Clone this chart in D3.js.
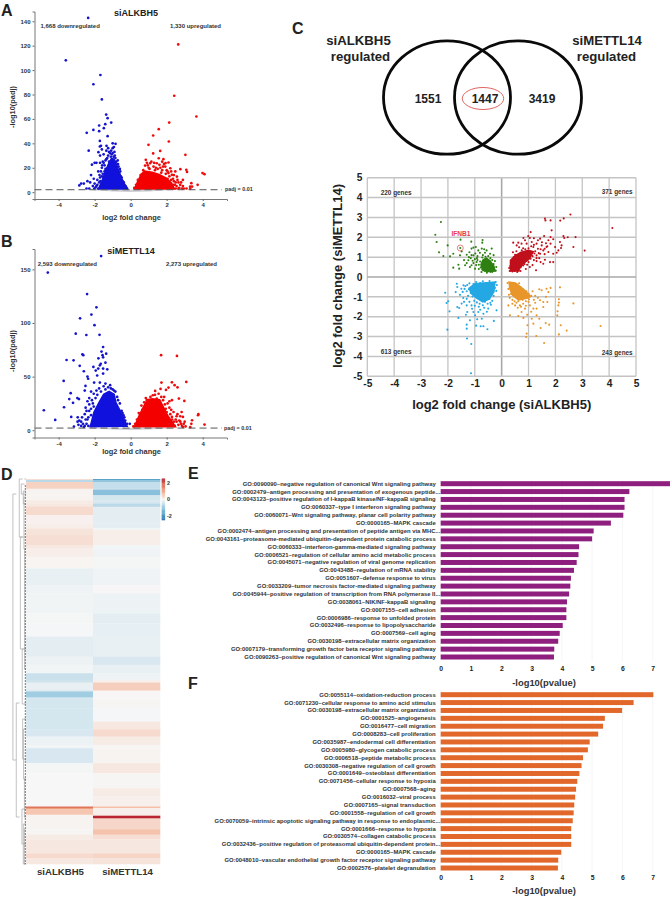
<!DOCTYPE html>
<html><head><meta charset="utf-8">
<script src="https://cdn.jsdelivr.net/npm/d3@7/dist/d3.min.js"></script>
<style>
html,body{margin:0;padding:0;background:#fff}
svg{display:block}
text{font-family:"Liberation Sans",Arial,sans-serif;font-weight:bold;fill:#222}
</style></head><body><svg id="c" width="672" height="897"></svg>
<script>
// ---------- Volcano A ----------
const aDown=[[-2.36,142.7],[-3.6,108],[-1.68,96],[-2.07,88.4],[-1.6,76],[-1.36,63.6],[-1.28,60.6],[-1.75,54.6],[-1.41,55.7],[-1.08,57],[-2.07,51],[-1.49,52.4],[-1.75,50],[-2.44,48.6],[-1.28,45.9],[-1.71,42],[-1,40],[-.84,39.6],[-1.71,37.4],[-2.33,34],[-1.79,32.8],[-.93,37],[-1.34,38],[-1.2,33],[-1.0,36],[-.9,33],[-1.5,31],[-1.9,24],[-2.0,24],[-2.15,22.5],[-1.7,24],[-1.4,26],[-1.6,20],[-1.8,17],[-2.05,11],[-2.2,14],[-2.25,8],[-2.4,9],[-2.6,7],[-2.75,7],[-2.85,5.5],[-2,7],[-1.95,4],[-2.1,5],[-1.85,10],[-1.7,12],[-1.6,6],[-1.55,15],[-1.45,22],[-1.3,28],[-1.25,30],[-1.1,29],[-.95,29],[-.85,28],[-1.15,32],[-1.05,31],[-1.35,34],[-1.7,30],[-1.55,25],[-1.6,35],[-2.3,3],[-2.45,3],[-1.8,3],[-1.65,38],[-1.25,36],[-.8,25],[-.75,21],[-.65,16],[-.55,13],[-.45,9],[-.35,6],[-.25,4],[-.2,3],[-.6,19],[-.7,23],[-1.2,25],[-1.4,19],[-1.5,12],[-1.85,6],[-1.75,8],[-1.65,17],[-1.5,24],[-1.35,27],[-1.6,13],[-1.68,9],[-1.9,5],[-2.02,3],[-1.73,14],[-1.58,22],[-1.45,17],[-.72,26],[-.67,21],[-.58,17],[-.5,12],[-.38,8],[-.28,5],[-.88,30],[-1.0,32],[-.92,26],[-1.08,34]];
const aUp=[[2.64,121],[2.42,79],[3.65,62],[2.14,57],[1.56,51.6],[1.25,46.4],[.99,38.8],[2.12,41.5],[1.64,33.8],[1.25,31.7],[3.04,30.6],[1.56,27.8],[.84,26.5],[1.82,27],[2.1,24.3],[1.94,23.8],[1.08,23.7],[2.76,18.8],[3.09,18.3],[3.13,16.6],[3.99,15.6],[4.1,14.7],[3.37,7.4],[3.72,6],[3.41,4.6],[3.31,2.7],[2.48,17],[2.2,19.6],[1.92,21],[1.45,23.7],[1.27,21],[.8,21.8],[2.9,10],[2.57,12.8],[2.29,14.2],[2.1,15.6],[1.6,22.4],[2.4,9],[2.2,7],[2.55,5],[2.7,3.5],[2.85,3],[3.1,3],[2.35,11],[1.75,18],[1.35,18],[1,20],[.7,18],[.55,14],[.4,10],[.3,6],[.2,3.5],[2.0,18],[1.85,23],[2.3,3.5],[2.5,8],[2.05,11],[2.65,8],[3.3,4.5],[1.15,25],[1.75,25],[.95,22],[.9,24],[1.05,19],[1.5,19],[1.65,20],[1.8,21],[1.7,16],[1.95,15],[2.15,13],[2.25,10],[2.45,6],[2.6,10],[2.75,6],[2.9,5],[2.95,3],[2.65,3],[2.4,14],[2.05,17],[1.3,24],[1.4,20],[2.25,17],[2.35,6],[2.8,8],[2.5,3]];
const aDownCore=[[-1.85,2],[-1.62,10],[-1.43,18],[-1.25,24],[-1.1,28],[-.95,28],[-.78,24],[-.63,18],[-.41,10],[-.13,2]];
const aUpCore=[[.15,2],[.35,9],[.55,15],[.75,18],[1.2,17],[1.6,15],[2.0,12],[2.3,8],[2.5,2]];
const aGrey=[[-2.4,2],[-1,.6],[0,.1],[1,.6],[2.4,2]];
// ---------- Volcano B ----------
const bDown=[[-1.64,162.4],[-4.6,147],[-2.42,127],[-1.9,114.6],[-2.18,107.8],[-2.81,104.3],[-2.01,98],[-3.05,90],[-2.46,88.8],[-1.73,89],[-1.53,77.6],[-1.62,73.3],[-2.68,70.8],[-2.63,70],[-1.36,71.4],[-1.79,67],[-1.56,70],[-3.56,65.5],[-3.17,65.2],[-1.53,68],[-1.66,62],[-1.4,63],[-2.83,60],[-2.07,59],[-1.71,60.5],[-1.8,57.5],[-1.53,57.5],[-2.6,55],[-1.94,55.6],[-1.3,56.8],[-2.4,50],[-1.86,51],[-1.53,52.8],[-3.72,46],[-2.36,48],[-2.03,44.4],[-1.71,44.4],[-1.4,43.5],[-2.51,41.3],[-2.55,37],[-1.14,42],[-3.33,34.5],[-3.41,29],[-2.96,30],[-2.87,29],[-3.2,25.5],[-3.7,21.4],[-4.82,18.6],[-4.19,9.6],[-3.3,12.4],[-2.94,12],[-3.15,3.4],[-2.2,36],[-2.05,34],[-1.9,37],[-1.75,39],[-1.5,41],[-1.25,40],[-1,38],[-.85,36],[-.75,31],[-.6,25],[-.5,18],[-.4,14],[-.3,9],[-.2,6],[-.05,6],[-2.4,27],[-2.3,24],[-2.5,21],[-2.55,15],[-2.7,12],[-2.85,9],[-2.65,6],[-2.9,5],[-2.6,3],[-2.4,10],[-2.3,30],[-2.15,28],[-2.75,4],[-2.45,18],[-2.2,14],[-2.3,18],[-2.95,8],[-2.05,22],[-1.95,30],[-2.1,25],[-1.85,33],[-1.65,36],[-1.4,38],[-1.1,39],[-.92,37],[-.7,28],[-.45,16],[-.35,12],[-2.35,12],[-2.45,6],[-2.5,10],[-2.35,4],[-2.2,20],[-2.75,8],[-2.55,4]];
const bUp=[[1.69,70],[2.57,69.3],[3.09,45],[1.71,44.4],[2.29,44.7],[2.44,42],[2.6,40],[2.1,39.8],[1.66,38.5],[1.96,37.6],[1.36,36.6],[1.23,32.6],[1.55,34],[2.68,29.5],[2.98,27.3],[2.29,28],[1.86,31],[.84,30],[1.45,29.5],[2.83,17],[3.76,15],[3.74,14],[4.1,5.3],[3.41,9.3],[3.37,6],[3.31,2.8],[2.9,12.4],[2.76,8],[3,8],[2.38,17],[2.29,12.4],[.9,28],[1.1,31],[1.7,31],[2.05,25],[1.95,20],[2.2,15],[2.5,10],[2.65,5],[2.85,4],[2.95,6],[.6,23],[.45,16],[.35,10],[.25,6],[.15,3.5],[2.1,6],[2.3,6],[2.45,4],[2.75,13],[2.6,15],[2.15,21],[1.8,28],[3.05,3.5],[2.55,8],[2.0,17],[1.9,24],[2.25,19],[2.4,8],[2.7,9],[2.8,6],[1.35,33],[.75,26],[2.3,10],[2.55,13],[2.9,3],[2.15,27],[.65,19]];
const bDownCore=[[-2.3,2.5],[-2.08,17],[-1.8,26],[-1.53,34],[-1.2,37],[-.88,34],[-.78,26],[-.5,17],[-.13,3]];
const bUpCore=[[.15,2.5],[.43,14],[.7,23],[.9,29],[1.2,30],[1.64,29],[1.82,23],[2.1,14],[2.57,2.5]];
const bGrey=[[-2.6,2],[-1,.6],[0,.1],[1,.6],[2.6,2]];
// ---------- Venn ----------
const vennCounts=[1551,1447,3419];
const vennNames=["siALKBH5","siMETTL14"];
// ---------- Quadrant scatter ----------
const qRed=[[1.61,2.94],[1.63,2.85],[1.82,2.85],[2.18,2.84],[2.31,2.95],[2.56,3.15],[4.12,2.47],[3.09,1.33],[2.67,1.51],[2.75,2.01],[2.46,2],[2.3,2.06],[2.33,1.96],[2.17,1.76],[2.23,1.59],[2.21,1.46],[2.11,1.34],[2.05,1.22],[1.92,1.17],[1.92,.75],[1.8,.75],[1.61,.87],[1.55,.67],[1.45,.75],[1.28,.34],[1.86,2.35],[1.82,2.01],[1.92,1.9],[1.58,2.06],[1.74,1.85],[1.43,1.93],[1.08,2.26],[.99,2.06],[1.05,1.96],[.81,1.96],[.87,1.85],[.62,1.73],[.43,1.73],[.56,1.59],[1.3,1.68],[1.49,1.59],[1.67,1.51],[1.82,1.68],[1.99,1.51],[1.55,1.34],[1.74,1.26],[1.43,1.17],[1.3,1.09],[1.18,1.51],[1.12,1.76],[.93,1.68],[.74,1.68],[1.35,1.42],[1.25,1.3],[1.1,1.2],[.95,1.3],[.8,1.45],[1.05,1.05],[1.4,.95],[1.2,.85],[1.0,.75],[.85,.65],[.7,.3],[.9,.4],[1.05,.5],[.3,.3],[.32,.55],[.35,.8],[.45,1.0],[.42,1.25],[.55,1.3],[1.6,1.15],[1.15,.6],[1.3,.8],[.65,1.5],[.28,.45],[1.65,1.7],[1.5,1.75],[1.2,1.95],[1.35,1.85],[.36,.35],[.42,.5],[.48,.3],[.52,.62],[.6,.42],[.66,.7],[.72,.52],[.78,.85],[.85,1.0],[.92,.82],[.98,1.12],[1.08,.92],[1.15,1.05],[1.22,1.18],[1.3,.95],[1.38,1.2],[.38,.72],[.46,.85],[.55,.95],[.62,1.1],[.7,1.22],[.78,1.1],[.88,1.4],[1,1.45],[.5,1.12],[.66,.95],[.75,1.35],[1.1,1.55],[1.2,1.62],[1.45,1.4],[1.6,1.42],[1.7,1.55],[.34,.42],[.4,.28],[.58,.25],[.64,.32],[.8,.58],[.95,.62],[.44,.66],[.58,.78]];
const qGreen=[[-2.26,2.77],[-2.47,2.13],[-2.42,1.76],[-2.33,1.24],[-2.17,1.06],[-2.01,1.59],[-1.92,1.04],[-1.8,1.17],[-1.53,1.88],[-1.13,1.78],[-.71,1.86],[-.72,1.73],[-1.49,1.29],[-1.55,1.09],[-1.3,1.12],[-1.8,.47],[-1.61,.62],[-1.58,.42],[-1.24,.84],[-1.18,.5],[-1.05,1.48],[-.96,1.51],[-.87,1.34],[-1.12,1.43],[-.74,1.43],[-.56,1.34],[-.37,1.43],[-.43,1.17],[-1.05,1.09],[-1.3,.7],[-1.36,.59],[-.93,.75],[-1.12,.59],[-.99,.42],[-.81,1.22],[-.62,1.22],[-.5,1.05],[-.3,1.1],[-.25,.8],[-.2,.5],[-.22,.32],[-1.0,.9],[-1.15,.95],[-1.05,.7],[-.85,.4],[-.95,.6],[-.35,.25],[-.55,.22],[-.75,.25],[-.65,1.4],[-1.4,.85],[-.9,1.05],[-.7,1.1],[-1.54,1.46],[-1.2,1.25],[-.9,.85],[-.85,.62],[-.78,.48],[-.8,.78],[-.72,.98],[-.66,.82],[-.6,1.02],[-.55,.9],[-.48,.8],[-.42,.95],[-.35,.85],[-.3,.65],[-.72,.38],[-.62,.3],[-.5,.32],[-.42,.26],[-.28,.4],[-1.08,.82],[-1.22,1.0],[-.98,1.18],[-1.12,1.1],[-.92,.95]];
const qBlue=[[-1.14,-4.85],[-1.13,-3.37],[-1.29,-3.1],[-2.02,-2.65],[-2.1,-.79],[-1.67,-.34],[-1.65,-.5],[-1.71,-.76],[-1.99,-1.22],[-2.05,-1.31],[-1.94,-1.73],[-1.65,-1.51],[-1.58,-1.56],[-1.61,-2.06],[-1.28,-1.76],[-1.33,-1.9],[-1.3,-2.4],[-1.3,-2.6],[-.99,-1.93],[-.91,-2.13],[-.74,-2.1],[-.78,-2.48],[-.68,-2.48],[-.53,-2.63],[-.29,-2.21],[-.19,-1.68],[-.5,-1.59],[-1.18,-2.18],[-1.05,-1.76],[-.87,-1.76],[-.68,-1.85],[-1.12,-1.43],[-1.3,-1.43],[-1.49,-1.34],[-1.43,-1.06],[-1.5,-.59],[-1.55,-.9],[-1.3,-1.1],[-1.2,-1.25],[-1,-1.45],[-.85,-1.5],[-.65,-1.55],[-.4,-1.4],[-.35,-1.2],[-.3,-.95],[-.2,-.7],[-.18,-.4],[-.22,-.25],[-.45,-.2],[-.7,-.22],[-.95,-.25],[-1.2,-.32],[-1.35,-.45],[-1.45,-.75],[-.55,-1.75],[-.8,-1.65],[-1.1,-1.6],[-1.4,-1.25],[-.95,-2.45],[-1.05,-.35],[-1.1,-.55],[-1.22,-.62],[-1.3,-.72],[-1.38,-.6],[-1.15,-.8],[-1.25,-.95],[-1.08,-.98],[-1.02,-1.2],[-.92,-1.28],[-.82,-1.35],[-.7,-1.42],[-.62,-1.25],[-.52,-1.35],[-.45,-1.1],[-.38,-.9],[-.25,-.55],[-.9,-.4],[-.8,-.3],[-.6,-.3],[-1.0,-.7],[-.92,-.85],[-.85,-1.05],[-.3,-.35],[-1.28,-.4],[-1.42,-.42],[-.42,-1.3]];
const qOrange=[[3.68,-2.47],[2.67,-1.33],[2.17,-.52],[2.13,-1.12],[2.13,-1.29],[2.11,-1.43],[2.08,-1.73],[2.07,-1.93],[2.2,-2.43],[2.42,-2.7],[2.13,-2.89],[1.58,-3.32],[1.29,-2.97],[.93,-2.85],[.91,-3.02],[1.45,-2.57],[1.64,-2.32],[1.77,-2.4],[1.4,-.62],[1.49,-.67],[1.67,-.59],[1.82,-.55],[1.74,-.76],[1.65,-1],[1.7,-1.26],[1.55,-1.26],[1.43,-1.17],[1.55,-1.51],[1.3,-1.59],[1.05,-1.43],[.87,-1.59],[.74,-1.76],[.62,-1.96],[.31,-1.93],[.81,-2.06],[1.12,-2.1],[.96,-2.43],[1.18,-2.35],[1.4,-2.1],[1.3,-1.93],[.25,-1.43],[.5,-1.43],[.68,-1.43],[1.18,-1.59],[1.1,-1.75],[.95,-1.9],[1.25,-1.3],[1.35,-1.05],[1.2,-1.15],[.22,-.3],[.25,-.6],[.27,-.9],[.4,-1.15],[.55,-1.3],[.8,-1.35],[1,-1.25],[.85,-.75],[.7,-.5],[.55,-.35],[1.0,-.85],[1.1,-.95],[.3,-1.05],[.35,-.85],[.42,-.3],[.65,-.32],[.78,-.62],[.92,-.72],[1.02,-1.12],[.9,-1.22],[.78,-1.15],[.62,-1.22],[.48,-1.22],[.72,-1.5],[.6,-1.55],[.9,-1.45],[1.15,-.72],[1.25,-.95],[.4,-1.35]];
const qRedCore=[[.3,.26],[.3,.85],[.5,1.12],[.72,1.28],[1.0,1.38],[1.22,1.3],[1.05,.9],[.8,.62],[.62,.26]];
const qGreenCore=[[-.8,.62],[-.72,.88],[-.58,1.0],[-.42,.85],[-.26,.55],[-.22,.27],[-.5,.24],[-.72,.3]];
const qBlueCore=[[-1.25,-.55],[-1.0,-.3],[-.22,-.22],[-.26,-.75],[-.45,-1.15],[-.7,-1.3],[-.95,-1.1],[-1.15,-.85]];
const qOrangeCore=[[.24,-.22],[.52,-.27],[.85,-.6],[1.12,-.98],[.98,-1.1],[.62,-1.2],[.38,-.95],[.28,-.6]];
const qCounts=["220 genes","371 genes","613 genes","243 genes"];
const ifnb1=[-1.54,1.46];
// ---------- Heat map: [row height, siALKBH5, siMETTL14] ----------
const heatCols=["siALKBH5","siMETTL14"];
const heatTop=[[1,.3,-1.7],[2,-.6,-1],[6.7,.45,-.5],[1,.05,-.4],[5.5,.05,-1.1],[5,.05,-.35],[3.3,.15,-.3],[3.3,.2,-.6],[8.3,.35,-.2],[8.3,.08,-.2],[5,.12,-.2],[1.7,.25,-.05],[5,.25,.12],[10,.3,.12],[3.3,.2,-.05],[8.3,.12,-.08],[11.7,.04,-.03],[16.7,-.15,-.08],[8.3,-.08,.02],[20,-.07,-.1],[10,-.03,-.2],[13.3,-.02,-.17],[20,-.2,-.15],[8.3,-.1,-.3],[8.3,-.05,-.15],[6.7,-.45,-.1]];
const heatBottom=[[2.7,-.4,.1],[8,-.15,.5],[1,-.4,.02],[5.7,-.85,.02],[1,-.5,.02],[10,-.35,.03],[13.3,-.35,-.02],[7.7,-.35,.2],[7.3,-.3,.35],[8.3,-.1,.15],[3.3,-.05,.03],[15,-.3,.05],[10,-.03,.2],[15,0,.03],[8.3,0,.15],[9.3,0,.1],[.8,.1,.1],[1.6,1.7,.7],[1,1.2,.1],[5.6,.6,.1],[1,.05,.2],[2.7,.05,2.4],[3.6,.05,.4],[7.3,.05,.4],[5.3,.03,.65],[4.7,.15,.3],[14,.2,.2],[5,.35,.42],[5.7,.2,.25]];
const colorTicks=[2,0,-2];
// dendrogram brackets: [depth, first row, last row]
const dendroBrackets=[[.97,15,281],[.5,0,58],[.72,224,338],[.35,5,15],[.2,12,25],[.15,18,70],[.42,58,170],[.1,70,190],[.28,170,225],[.25,240,280],[.18,250,300],[.12,300,338],[.3,330,365],[.2,345,385],[.12,350,385]];
const dendroLeafRows=[0,15,25,58,70,170,190,224,240,250,281,300,330,338,345,365,385];
// ---------- GO bars ----------
const goE=["GO:0090090~negative regulation of canonical Wnt signaling pathway","GO:0002479~antigen processing and presentation of exogenous peptide...","GO:0043123~positive regulation of I-kappaB kinase/NF-kappaB signaling","GO:0060337~type I interferon signaling pathway","GO:0060071~Wnt signaling pathway, planar cell polarity pathway","GO:0000165~MAPK cascade","GO:0002474~antigen processing and presentation of peptide antigen via MHC...","GO:0043161~proteasome-mediated ubiquitin-dependent protein catabolic process","GO:0060333~interferon-gamma-mediated signaling pathway","GO:0006521~regulation of cellular amino acid metabolic process","GO:0045071~negative regulation of viral genome replication","GO:0043488~regulation of mRNA stability","GO:0051607~defense response to virus","GO:0033209~tumor necrosis factor-mediated signaling pathway","GO:0045944~positive regulation of transcription from RNA polymerase II...","GO:0038061~NIK/NF-kappaB signaling","GO:0007155~cell adhesion","GO:0006986~response to unfolded protein","GO:0032496~response to lipopolysaccharide","GO:0007569~cell aging","GO:0030198~extracellular matrix organization","GO:0007179~transforming growth factor beta receptor signaling pathway","GO:0090263~positive regulation of canonical Wnt signaling pathway"];
const valE=[7.57,6.23,6.07,6.07,6.03,5.62,5.05,5.0,4.57,4.55,4.49,4.4,4.3,4.28,4.24,4.17,4.15,4.15,4.03,3.93,3.88,3.75,3.74];
const goF=["GO:0055114~oxidation-reduction process","GO:0071230~cellular response to amino acid stimulus","GO:0030198~extracellular matrix organization","GO:0001525~angiogenesis","GO:0016477~cell migration","GO:0008283~cell proliferation","GO:0035987~endodermal cell differentiation","GO:0005980~glycogen catabolic process","GO:0006518~peptide metabolic process","GO:0030308~negative regulation of cell growth","GO:0001649~osteoblast differentiation","GO:0071456~cellular response to hypoxia","GO:0007568~aging","GO:0016032~viral process","GO:0007165~signal transduction","GO:0001558~regulation of cell growth","GO:0070059~intrinsic apoptotic signaling pathway in response to endoplasmic...","GO:0001666~response to hypoxia","GO:0030574~collagen catabolic process","GO:0032436~positive regulation of proteasomal ubiquitin-dependent protein...","GO:0000165~MAPK cascade","GO:0048010~vascular endothelial growth factor receptor signaling pathway","GO:0002576~platelet degranulation"];
const valF=[7.02,6.37,5.99,5.42,5.36,5.2,4.92,4.86,4.7,4.65,4.58,4.51,4.47,4.44,4.41,4.39,4.36,4.31,4.31,4.31,3.98,3.88,3.87];
const goTicks=[0,1,2,3,4,5,6,7];

const svg=d3.select("#c");
const intFmt=d=>String(d);
function txt(g,x,y,s,size,anchor,fill,rot){
  const t=g.append("text").attr("x",x).attr("y",y).attr("font-size",size).attr("text-anchor",anchor||"start").attr("dominant-baseline","central").text(s);
  if(fill)t.style("fill",fill);
  if(rot)t.attr("transform",`rotate(${rot} ${x} ${y})`);
  return t;
}
// panel letters
[["A",1,10.5],["B",1,241],["C",292,28],["D",1,474],["E",188,473],["F",188,683]].forEach(d=>txt(svg,d[1],d[2],d[0],16));

function volcano(o){
  const g=svg.append("g");
  const x=d3.scaleLinear().domain([-5.34,5.35]).range([34.5,227]);
  const y=d3.scaleLinear().domain(o.yDomain).range(o.yRange);
  const line=d3.line().x(d=>x(d[0])).y(d=>y(d[1])).curve(d3.curveLinear);
  g.append("path").attr("d",line(o.grey)+"Z").attr("fill","#cfcfd4");
  g.append("path").attr("d",line(o.downCore)+"Z").attr("fill","#1111dd");
  g.append("path").attr("d",line(o.upCore)+"Z").attr("fill","#f40000");
  g.selectAll(".d").data(o.down).join("circle").attr("cx",d=>x(d[0])).attr("cy",d=>y(d[1])).attr("r",1.35).attr("fill","#1414cc");
  g.selectAll(".u").data(o.up).join("circle").attr("cx",d=>x(d[0])).attr("cy",d=>y(d[1])).attr("r",1.35).attr("fill","#ee0a0a");
  g.append("line").attr("x1",x(-5.34)).attr("x2",222).attr("y1",y(2)).attr("y2",y(2)).attr("stroke","#555").attr("stroke-width",1).attr("stroke-dasharray","7 4");
  const ax=g.append("g").attr("transform",`translate(0,${o.yRange[0]})`).call(d3.axisBottom(x).tickValues([-4,-2,0,2,4]).tickSize(2).tickPadding(2).tickFormat(intFmt));
  const ay=g.append("g").attr("transform","translate(34.5,0)").call(d3.axisLeft(y).tickValues(o.yTicks).tickSize(2).tickPadding(2));
  [ax,ay].forEach(a=>{a.selectAll("text").attr("font-size",6).style("fill","#333");a.selectAll("line,path").attr("stroke","#666");a.select("path").attr("stroke","#777");});
  txt(g,o.titleX,o.titleY,o.title,o.titleSize||9,"middle");
  txt(g,o.dnX,o.annY,o.dn,6,"start","#333");
  txt(g,o.upX,o.annY,o.upTxt,6,"start","#333");
  txt(g,o.padjX,y(2)-.4,"padj = 0.01",5.4,"start","#333");
  txt(g,131.5,o.xlabY,"log2 fold change",7.4,"middle","#333");
  txt(g,12,o.ylabY,"-log10(padj)",7.4,"middle","#333",-90);
}
volcano({yDomain:[-5.6,148],yRange:[199,11.5],yTicks:[0,20,40,60,80,100,120,140],grey:aGrey,downCore:aDownCore,upCore:aUpCore,down:aDown,up:aUp,title:"siALKBH5",titleX:136,titleY:13,dn:"1,668 downregulated",dnX:40.5,upTxt:"1,330 upregulated",upX:170,annY:26,padjX:225,xlabY:217,ylabY:107});
volcano({yDomain:[-6.8,169],yRange:[437.5,249],yTicks:[0,50,100,150],grey:bGrey,downCore:bDownCore,upCore:bUpCore,down:bDown,up:bUp,title:"siMETTL14",titleX:131,titleY:251,titleSize:9,dn:"2,593 downregulated",dnX:37.7,upTxt:"2,273 upregulated",upX:166,annY:263.7,padjX:224,xlabY:451,ylabY:351});

// Venn
(function(){
  const g=svg.append("g");
  const cx=d3.scalePoint().domain(vennNames).range([447,518]);
  g.selectAll("ellipse.v").data(vennNames).join("ellipse").attr("cx",d=>cx(d)).attr("cy",97.5).attr("rx",63.5).attr("ry",56.7).attr("fill","none").attr("stroke","#0a0a0a").attr("stroke-width",2.8);
  g.append("ellipse").attr("cx",483).attr("cy",98.5).attr("rx",20.7).attr("ry",11).attr("fill","none").attr("stroke","#d9534f").attr("stroke-width",.9);
  const nx=d3.scalePoint().domain(vennCounts).range([428,542]);
  vennCounts.forEach(v=>txt(g,nx(v),99,v,12,"middle"));
  txt(g,358.5,40,vennNames[0],13.2,"middle");txt(g,360.5,56,"regulated",13.2,"middle");
  txt(g,607,40,vennNames[1],13.2,"middle");txt(g,606.5,56,"regulated",13.2,"middle");
})();

// Quadrant scatter
(function(){
  const g=svg.append("g");
  const x=d3.scaleLinear().domain([-5,5]).range([367.3,636]);
  const y=d3.scaleLinear().domain([-5,5]).range([376.3,177.7]);
  const r=d3.range(-5,6);
  g.selectAll(".gx").data(r).join("line").attr("x1",d=>x(d)).attr("x2",d=>x(d)).attr("y1",y(5)).attr("y2",y(-5)).attr("stroke",d=>d===0?"#a8a8a8":"#c4c4c4").attr("stroke-width",d=>d===0?1.6:1.3);
  g.selectAll(".gy").data(r).join("line").attr("y1",d=>y(d)).attr("y2",d=>y(d)).attr("x1",x(-5)).attr("x2",x(5)).attr("stroke",d=>d===0?"#a8a8a8":"#c4c4c4").attr("stroke-width",d=>d===0?1.6:1.5);
  const line=d3.line().x(d=>x(d[0])).y(d=>y(d[1]));
  [[qRedCore,"#c0101c"],[qGreenCore,"#2f8012"],[qBlueCore,"#24a8e4"],[qOrangeCore,"#e8952a"]].forEach(p=>g.append("path").attr("d",line(p[0])+"Z").attr("fill",p[1]));
  [[qRed,"#c0101c"],[qGreen,"#2f8012"],[qBlue,"#24a8e4"],[qOrange,"#e8952a"]].forEach(p=>{
    g.append("g").selectAll("circle").data(p[0]).join("circle").attr("cx",d=>x(d[0])).attr("cy",d=>y(d[1])).attr("r",1.05).attr("fill",p[1]);
  });
  g.append("circle").attr("cx",x(ifnb1[0])).attr("cy",y(ifnb1[1])).attr("r",3).attr("fill","none").attr("stroke","#d9534f").attr("stroke-width",.7);
  txt(g,461,233,"IFNB1",6.6,"middle","#e8394a");
  txt(g,380.7,192,qCounts[0],6.4,"start","#333");
  txt(g,632.7,191.5,qCounts[1],6.4,"end","#333");
  txt(g,380.7,351.7,qCounts[2],6.4,"start","#333");
  txt(g,632.7,352,qCounts[3],6.4,"end","#333");
  const ax=g.append("g").attr("transform",`translate(0,${y(-5)})`).call(d3.axisBottom(x).tickValues(r).tickSize(0).tickPadding(3).tickFormat(intFmt));
  const ay=g.append("g").attr("transform",`translate(${x(-5)},0)`).call(d3.axisLeft(y).tickValues(r).tickSize(0).tickPadding(5).tickFormat(intFmt));
  [ax,ay].forEach(a=>{a.select("path").remove();a.selectAll("text").attr("font-size",10.2).style("fill","#222");});
  txt(g,501.7,404,"log2 fold change (siALKBH5)",13,"middle");
  txt(g,337,276,"log2 fold change (siMETTL14)",13,"middle",null,-90);
})();

// Heat map
(function(){
  const g=svg.append("g");
  const rows=heatTop.concat(heatBottom);
  const total=d3.sum(rows,d=>d[0]);
  const yy=d3.scaleLinear().domain([0,total]).range([479,864]);
  const xb=d3.scaleBand().domain(heatCols).range([26,160]);
  const col=d3.scaleLinear().domain([-2.5,-2,-1,0,1,2,2.5]).range(["#2166ac","#4393c3","#92c5de","#f7f7f7","#f4a582","#d6604d","#b2182b"]);
  let c=0;
  rows.forEach(r=>{
    heatCols.forEach((n,i)=>{
      g.append("rect").attr("x",xb(n)).attr("width",xb.bandwidth()+.3).attr("y",yy(c)).attr("height",yy(c+r[0])-yy(c)+.3).attr("fill",col(r[i+1]));
    });
    c+=r[0];
  });
  heatCols.forEach(n=>txt(g,xb(n)+xb.bandwidth()/2+1,871,n,9.6,"middle","#333"));
  // colour bar
  const cy=d3.scaleLinear().domain([2.5,-2.5]).range([478.5,520]);
  d3.range(-2.5,2.5,.1).forEach(v=>g.append("rect").attr("x",161.7).attr("width",3.4).attr("y",cy(v+.1)).attr("height",cy(v)-cy(v+.1)+.3).attr("fill",col(v+.05)));
  colorTicks.forEach(v=>txt(g,167,cy(v),v,5.4,"start","#333"));
  // dendrogram
  const dx=d3.scaleLinear().domain([0,1]).range([26,12.5]);
  const dy=d3.scaleLinear().domain([0,385]).range([479,864]);
  const dg=g.append("g").attr("stroke","#a8a8a8").attr("stroke-width",.7).attr("fill","none");
  dendroBrackets.forEach(b=>{
    dg.append("path").attr("d",`M${dx(Math.max(b[0]-.25,0.03))},${dy(b[1])}H${dx(b[0])}V${dy(b[2])}H${dx(Math.max(b[0]-.25,0.03))}`);
  });
  dg.selectAll("line").data(dendroLeafRows).join("line").attr("x1",dx(.12)).attr("x2",dx(0)).attr("y1",d=>dy(d)).attr("y2",d=>dy(d));
  g.append("line").attr("x1",dx(.05)).attr("x2",dx(.05)).attr("y1",dy(6)).attr("y2",dy(385)).attr("stroke","#555").attr("stroke-width",.8).attr("stroke-dasharray","2 1");
})();

// GO bars
function bars(names,vals,color,y0,y1,tickY,titleY){
  const g=svg.append("g");
  const x=d3.scaleLinear().domain([0,7]).range([440.7,652.7]);
  const y=d3.scalePoint().domain(names).range([y0,y1]);
  g.selectAll(".g").data(goTicks).join("line").attr("x1",d=>x(d)).attr("x2",d=>x(d)).attr("y1",y0-4).attr("y2",y1+4).attr("stroke","#f0f0f0").attr("stroke-width",.6);
  g.append("g").selectAll("rect").data(names).join("rect").attr("x",x(0)).attr("y",d=>y(d)-2.5).attr("height",5).attr("width",(d,i)=>x(vals[i])-x(0)).attr("fill",color);
  names.forEach(n=>{
    const tr=n.endsWith("...");
    txt(g,tr?440.3:435.7,y(n),n,5.9,"end","#333");
  });
  const ax=g.append("g").attr("transform",`translate(0,${tickY})`).call(d3.axisBottom(x).tickValues(goTicks).tickSize(0).tickPadding(0).tickFormat(intFmt));
  ax.select("path").remove();ax.selectAll("text").attr("font-size",6.8).attr("dy",0).attr("dominant-baseline","central").style("fill","#222");
  txt(g,544,titleY,"-log10(pvalue)",9.4,"middle","#333");
}
bars(goE,valE,"#8e1f7e",483.7,657,668,682);
bars(goF,valF,"#e2672a",694.7,868,877,890);
</script></body></html>
